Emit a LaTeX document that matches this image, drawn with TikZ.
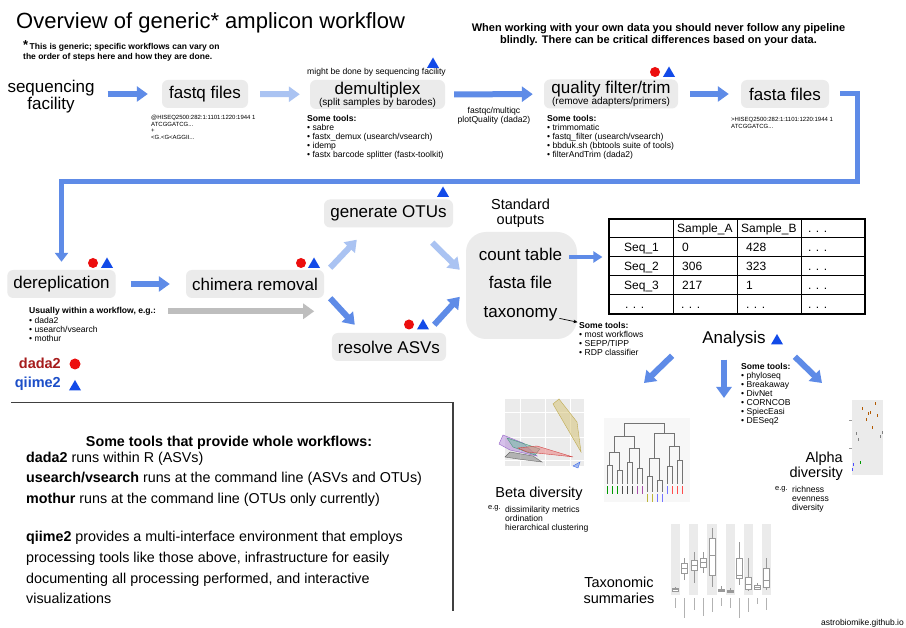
\documentclass[tikz,border=0pt]{standalone}
\usepackage{fontspec}
\setmainfont{Liberation Sans}
\usepackage{tikz}
\usetikzlibrary{arrows.meta}
\usetikzlibrary{shapes.geometric}
\usetikzlibrary{positioning}
\definecolor{arrowblue}{RGB}{94,139,231}
\definecolor{arrowpale}{RGB}{170,195,242}
\definecolor{arrowgray}{RGB}{190,190,190}
\definecolor{boxgray}{RGB}{235,235,235}
\definecolor{dotred}{RGB}{236,14,14}
\definecolor{triblue}{RGB}{18,74,232}
\definecolor{dadared}{RGB}{166,28,28}
\definecolor{qiimeblue}{RGB}{28,78,200}
\definecolor{plotgray}{RGB}{235,235,235}
\tikzstyle{stage}=[rectangle,rounded corners=6pt,fill=boxgray,inner xsep=6pt,inner ysep=1pt,minimum height=28pt,align=center,font=\fontsize{17}{11}\selectfont]
\tikzstyle{flow}=[-{Triangle[length=11pt,width=15pt]},line width=6pt,draw=arrowblue]
\tikzstyle{flowlight}=[flow,draw=arrowpale]
\tikzstyle{flowgray}=[flow,draw=arrowgray]
\tikzstyle{tools}=[anchor=north west,inner sep=0pt,align=left,font=\fontsize{8.6}{9}\selectfont]
\tikzstyle{seqtext}=[anchor=north west,inner sep=0pt,align=left,font=\fontsize{6}{6.7}\selectfont]
\tikzstyle{label}=[inner sep=0pt,font=\fontsize{14.5}{15}\selectfont]
\tikzstyle{dadamark}=[circle,fill=dotred,inner sep=0pt,minimum size=10pt]
\tikzstyle{qiimemark}=[regular polygon,regular polygon sides=3,fill=triblue,inner sep=0pt,minimum size=14pt]
\tikzstyle{cell}=[anchor=base west,inner sep=0pt,font=\fontsize{12}{12}\selectfont]
\tikzstyle{dendro}=[line width=0.5pt,draw=black!55]
\tikzstyle{whisk}=[line width=0.35pt,draw=black!40]

\begin{document}
\begin{tikzpicture}[x=1pt,y=-1pt]
  \fill[white] (0,0) rectangle (906,628);
  \useasboundingbox (0,0) rectangle (906,628);
  % headings
  \node[anchor=base west,inner sep=0pt,font=\fontsize{22}{22}\selectfont] at (16,28.5) (title) {Overview of generic* amplicon workflow};
  \node[anchor=north west,inner sep=0pt,align=left,font=\bfseries\fontsize{8.5}{9.5}\selectfont] at (23,40.6) (note) {{\fontsize{13}{9.5}\selectfont *}\,This is generic; specific workflows can vary on\\the order of steps here and how they are done.};
  \node[anchor=north,inner sep=0pt,align=center,font=\bfseries\fontsize{11}{12}\selectfont] at (658.5,23) (warn) {When working with your own data you should never follow any pipeline\\blindly. There can be critical differences based on your data.};
  % top row
  \node[anchor=north,inner sep=0pt,align=center,font=\fontsize{17}{16.5}\selectfont] at (51,80) (seqfac) {sequencing\\facility};
  \node[stage,minimum width=86pt] at (205,94) (fastq) {fastq files};
  \node[stage,minimum width=135pt,minimum height=29pt] at (377.5,94.5) (demux) {demultiplex\\{\fontsize{10}{10}\selectfont (split samples by barodes)}};
  \node[stage,minimum width=134pt,minimum height=29pt] at (611,94) (quality) {quality filter/trim\\{\fontsize{10}{10}\selectfont (remove adapters/primers)}};
  \node[stage,minimum width=88pt] at (785,94) (fasta) {fasta files};
  \node[tools,anchor=base] at (376.5,75) (maybe) {might be done by sequencing facility};
  \node[seqtext] at (151,115) (fastqrec) {@HISEQ2500:282:1:1101:1220:1944 1\\ATCGGATCG...\\+\\<G.<G<AGGII...};
  \node[seqtext] at (731,117) (fastarec) {>HISEQ2500:282:1:1101:1220:1944 1\\ATCGGATCG...};
  \node[tools] at (307,115) (demuxtools) {\textbf{Some tools:}\\• sabre\\• fastx\_demux (usearch/vsearch)\\• idemp\\• fastx barcode splitter (fastx-toolkit)};
  \node[tools,anchor=north,align=center] at (494,107) (qctext) {fastqc/multiqc\\plotQuality (dada2)};
  \node[tools] at (547,115.5) (qualtools) {\textbf{Some tools:}\\• trimmomatic\\• fastq\_filter (usearch/vsearch)\\• bbduk.sh (bbtools suite of tools)\\• filterAndTrim (dada2)};
  \draw[flow,shorten <=13pt,shorten >=14pt] (seqfac.east |- fastq.west) -- (fastq.west);
  \draw[flowlight,shorten <=12pt,shorten >=10pt] (fastq) -- (demux);
  \draw[flow,shorten <=9pt,shorten >=11pt] (demux) -- (quality);
  \draw[flow,shorten <=12pt,shorten >=12pt] (quality) -- (fasta);
  % middle row
  \node[stage,minimum width=107pt] at (61.5,284) (derep) {dereplication};
  \node[stage,minimum width=138pt] at (255,284) (chimera) {chimera removal};
  \node[stage,minimum width=129pt] at (388.5,213.5) (otus) {generate OTUs};
  \node[stage,minimum width=110pt] at (389,347) (asvs) {resolve ASVs};
  \node[stage,minimum width=111pt,minimum height=107pt,rounded corners=20pt] at (521.5,285.5) (outbox) {};
  \node[label,anchor=north,align=center] at (520.5,198.5) (stdout) {Standard\\outputs};
  \node[anchor=base,inner sep=0pt,font=\fontsize{17}{17}\selectfont] at (520.5,261) (count) {count table};
  \node[anchor=base,inner sep=0pt,font=\fontsize{17}{17}\selectfont] at (520.5,289) (fastafile) {fasta file};
  \node[anchor=base,inner sep=0pt,font=\fontsize{17}{17}\selectfont] at (520.5,318) (taxo) {taxonomy};
  \coordinate (turn) at (857,181.5);
  \draw[flow,line width=5pt,-{Triangle[length=9pt,width=13pt]}] ([xshift=11pt]fasta.east) -| (turn) -| ([yshift=8pt]derep.north);
  \draw[flow,shorten <=15pt,shorten >=16pt] (derep) -- (chimera);
  \draw[flowlight] ([shift={(6,-2)}]chimera.north east) -- ([shift={(33,12)}]otus.south west);
  \draw[flow] ([shift={(6,0)}]chimera.south east) -- ([shift={(23,-8)}]asvs.north west);
  \draw[flowlight] ([shift={(-21,15)}]otus.south east) -- ([shift={(-6,38)}]outbox.north west);
  \draw[flow] ([shift={(-12,-8)}]asvs.north east) -- ([shift={(-6,65)}]outbox.north west);
  \node[tools,anchor=base west] at (29,313.5) (usualhd) {\textbf{Usually within a workflow, e.g.:}};
  \node[tools] at (29,316.8) (usuallist) {• dada2\\• usearch/vsearch\\• mothur};
  \draw[flowgray,shorten <=12pt,shorten >=10pt] (usualhd.east) -- (usualhd.east -| chimera.east);
  % markers
  \node[qiimemark] at (433,64.5) (qdemux) {};
  \node[dadamark] at (655,72) (dqual) {};
  \node[qiimemark] at (669,73.5) (qqual) {};
  \node[dadamark] at (93,263) (dderep) {};
  \node[qiimemark] at (107,264.5) (qderep) {};
  \node[dadamark] at (301,263) (dchim) {};
  \node[qiimemark] at (314,264.5) (qchim) {};
  \node[qiimemark] at (443,193.5) (qotus) {};
  \node[dadamark] at (409,324.5) (dasvs) {};
  \node[qiimemark] at (423,326) (qasvs) {};
  % legend
  \node[anchor=base east,inner sep=0pt,font=\bfseries\fontsize{14.5}{14.5}\selectfont,text=dadared] at (61,369) (dadalbl) {dada2};
  \node[anchor=base east,inner sep=0pt,font=\bfseries\fontsize{14.5}{14.5}\selectfont,text=qiimeblue] at (61,388) (qiimelbl) {qiime2};
  \node[dadamark,minimum size=11pt] at (75,364) (ddada) {};
  \node[qiimemark] at (75,387) (qqiime) {};
  % count table
  \node[draw=black,line width=1.2pt,minimum width=256pt,minimum height=95pt,inner sep=0pt] at (737,266.5) (tab) {};
  \foreach \cx in {673,737,801} \draw[line width=1pt] (\cx,219) -- (\cx,314);
  \foreach \ry in {238,257,276,295} \draw[line width=1pt] (609,\ry) -- (865,\ry);
  \node[cell] at (677,232.8) (hA) {Sample\_A};
  \node[cell] at (741,232.8) (hB) {Sample\_B};
  \node[cell] at (808,232.8) (hC) {. . .};
  \foreach \yy/\n/\va/\vb/\k in {251.8/Seq\_1/0/428/1, 270.8/Seq\_2/306/323/2, 289.8/Seq\_3/217/1/3} {
    \node[cell] at (624,\yy) (seq\k) {\n};
    \node[cell] at (682,\yy) (a\k) {\va};
    \node[cell] at (746,\yy) (b\k) {\vb};
    \node[cell] at (808,\yy) (d\k) {. . .};
  }
  \foreach \xx [count=\k] in {625,681,746,808} \node[cell] at (\xx,308.8) (e\k) {. . .};
  \draw[flow,line width=4pt,-{Triangle[length=9pt,width=11pt]}] ([shift={(7,-4)}]count.base east) -- ([shift={(-6,-9.5)}]tab.west);
  \node[tools] at (579,322.5) (taxtools) {\textbf{Some tools:}\\• most workflows\\• SEPP/TIPP\\• RDP classifier};
  \draw[-{Stealth[length=4pt,width=3.5pt]},line width=0.7pt,shorten <=2pt,shorten >=1.5pt] (taxo.base east) -- (taxtools.north west);
  % analysis
  \node[anchor=base,inner sep=0pt,font=\fontsize{17}{17}\selectfont] at (734,344) (analysis) {Analysis};
  \node[qiimemark] at (777,341) (qana) {};
  \node[tools] at (741,363.5) (anatools) {\textbf{Some tools:}\\• phyloseq\\• Breakaway\\• DivNet\\• CORNCOB\\• SpiecEasi\\• DESeq2};
  \coordinate (toBeta) at (644,383);
  \coordinate (toTax) at (724,398);
  \coordinate (toAlpha) at (822,383);
  \draw[flow] ([shift={(-30,8)}]analysis.south west) -- (toBeta);
  \draw[flow] ([shift={(-10,12)}]analysis.south) -- (toTax);
  \draw[flow] ([shift={(29,9)}]analysis.south east) -- (toAlpha);
  % beta diversity plots
  \fill[plotgray] (505,399) rectangle (584,466);
  \foreach \gx in {520,545,570} \draw[white,line width=0.3pt] (\gx,399) -- (\gx,466);
  \foreach \gy in {412,437,460} \draw[white,line width=0.3pt] (505,\gy) -- (584,\gy);
  \filldraw[fill={rgb,255:red,212;green,192;blue,110},draw={rgb,255:red,190;green,170;blue,80},fill opacity=0.5,line width=0.4pt] (553,404) -- (559,399) -- (577,422) -- (581,452) -- cycle;
  \filldraw[fill={rgb,255:red,175;green,130;blue,215},draw={rgb,255:red,150;green,100;blue,200},fill opacity=0.5,line width=0.4pt] (499,444) -- (503,435) -- (523,443) -- (537,456) -- (510,450) -- cycle;
  \filldraw[fill={rgb,255:red,110;green,190;blue,160},draw={rgb,255:red,70;green,150;blue,120},fill opacity=0.5,line width=0.4pt] (507,438) -- (540,449) -- (535,455) -- (513,447) -- cycle;
  \filldraw[fill={rgb,255:red,235;green,120;blue,120},draw={rgb,255:red,210;green,70;blue,70},fill opacity=0.5,line width=0.4pt] (518,448) -- (537,446) -- (573,457) -- (565,456) -- (527,452) -- cycle;
  \filldraw[fill=black!45,draw=black!60,fill opacity=0.6,line width=0.4pt] (505,457) -- (510,452) -- (533,456) -- (542,462) -- (518,459) -- cycle;
  \filldraw[fill={rgb,255:red,110;green,150;blue,240},draw={rgb,255:red,70;green,110;blue,230},fill opacity=0.6,line width=0.4pt] (573,466) -- (580,462) -- (578,468) -- cycle;
  \fill[plotgray!40] (604,418) rectangle (690,502);
  \foreach \a/\b/\y/\ya/\yb in {607/612/465/484/484, 617/622/470/484/484, 627/632/462/484/484, 637/642/468/484/484, 647/652/476/492/492, 657/662/480/492/492, 667/672/466/484/484, 677/682/460/484/484, 609.5/619.5/452/465/470, 629.5/639.5/448/462/468, 649.5/659.5/458/476/480, 669.5/679.5/446/466/460, 614.5/634.5/436/452/448, 654.5/674.5/433/458/446, 624.5/664.5/423/436/433}
    \draw[dendro] (\a,\ya) -- (\a,\y) -- (\b,\y) -- (\b,\yb);
  \foreach \lx/\ly/\lc in {607/484/green!60!black, 612/484/green!60!black, 617/484/green!60!black, 622/484/black!70, 627/484/black!70, 632/484/black!70, 637/484/violet!70, 642/484/violet!70, 647/492/yellow!70!black, 652/492/yellow!70!black, 657/492/blue!55, 662/492/blue!55, 667/484/blue!55, 672/484/red!70, 677/484/red!70, 682/484/red!70}
    \draw[\lc,line width=1pt] (\lx,\ly+2) -- (\lx,\ly+10);
  \node[label,anchor=base] at (539,497) (betalbl) {Beta diversity};
  \node[anchor=base west,inner sep=0pt,font=\fontsize{7.5}{7.5}\selectfont] at (488,510) (betaeg) {e.g.};
  \node[tools] at (505,505.8) (betalist) {dissimilarity metrics\\ordination\\hierarchical clustering};
  % alpha diversity plot
  \fill[plotgray] (852,400) rectangle (883,475);
  \foreach \gy in {420,448} \draw[black!40,line width=0.4pt] (849,\gy) -- (852,\gy);
  \foreach \dx/\dy/\dc in {862.7/409/orange!70!black, 866.3/420/orange!70!black, 868/414/orange!70!black, 870.7/413/orange!70!black, 875/404/orange!70!black, 877.3/416/orange!70!black, 872.7/428/orange!70!black, 880.7/437/black!50, 882.7/433/black!50, 856/434/black!50, 858/440/black!50, 853.5/465/blue!70, 860/463/green!60!black, 852.8/470/blue!70}
    \draw[\dc,line width=0.9pt] (\dx,\dy-1.5) -- (\dx,\dy+1.5);
  \node[label,anchor=north east,align=right] at (843,451.4) (alphalbl) {Alpha\\diversity};
  \node[anchor=base west,inner sep=0pt,font=\fontsize{7.5}{7.5}\selectfont] at (775,490) (alphaeg) {e.g.};
  \node[tools] at (792,485.8) (alphalist) {richness\\evenness\\diversity};
  % taxonomic summaries plot
  \foreach \i in {0,2,4,6,8,10} \fill[plotgray] (671+9.1*\i,524) rectangle (680.1+9.1*\i,595);
  \foreach \i/\qa/\qb/\wa/\wb/\md/\ll in {0/588/591/587/592/589.5/10, 1/563/573/558/580/568/20, 2/560/570/552/583/565/12, 3/558/567/552/573/562/18, 4/538/575/528/587/555/14, 5/589/591/586/592/590/8, 6/590/592/588/593/591/10, 7/558/578/542/585/575/20, 8/577/589/558/591/584/14, 9/585/589/583/590/587/6, 10/568/587/558/590/580/12} {
    \draw[whisk] (675.55+9.1*\i,\wa) -- (675.55+9.1*\i,\wb);
    \filldraw[whisk,fill=white] (672.55+9.1*\i,\qa) rectangle (678.55+9.1*\i,\qb);
    \draw[whisk,line width=0.6pt] (672.55+9.1*\i,\md) -- (678.55+9.1*\i,\md);
    \draw[black!30,line width=0.5pt] (675.55+9.1*\i,598) -- (675.55+9.1*\i,598+\ll);
  }
  \node[label,anchor=north,align=center,font=\fontsize{14.5}{16}\selectfont] at (619,576.4) (taxlbl) {Taxonomic\\summaries};
  \node[anchor=base east,inner sep=0pt,font=\fontsize{8.5}{8.5}\selectfont] at (904,625.5) (site) {astrobiomike.github.io};
  % whole workflows
  \draw[line width=1.3pt,black!75] (11,402.5) -| (453,611);
  \node[anchor=base,inner sep=0pt,font=\bfseries\fontsize{14.3}{14.3}\selectfont] at (229,447) (wholehd) {Some tools that provide whole workflows:};
  \node[anchor=north west,inner sep=0pt,align=left,font=\fontsize{14.3}{20.6}\selectfont] at (26,451.6) (whole) {\textbf{dada2} runs within R (ASVs)\\\textbf{usearch/vsearch} runs at the command line (ASVs and OTUs)\\\textbf{mothur} runs at the command line (OTUs only currently)\\[18pt]\textbf{qiime2} provides a multi-interface environment that employs\\processing tools like those above, infrastructure for easily\\documenting all processing performed, and interactive\\visualizations};
\end{tikzpicture}
\end{document}
